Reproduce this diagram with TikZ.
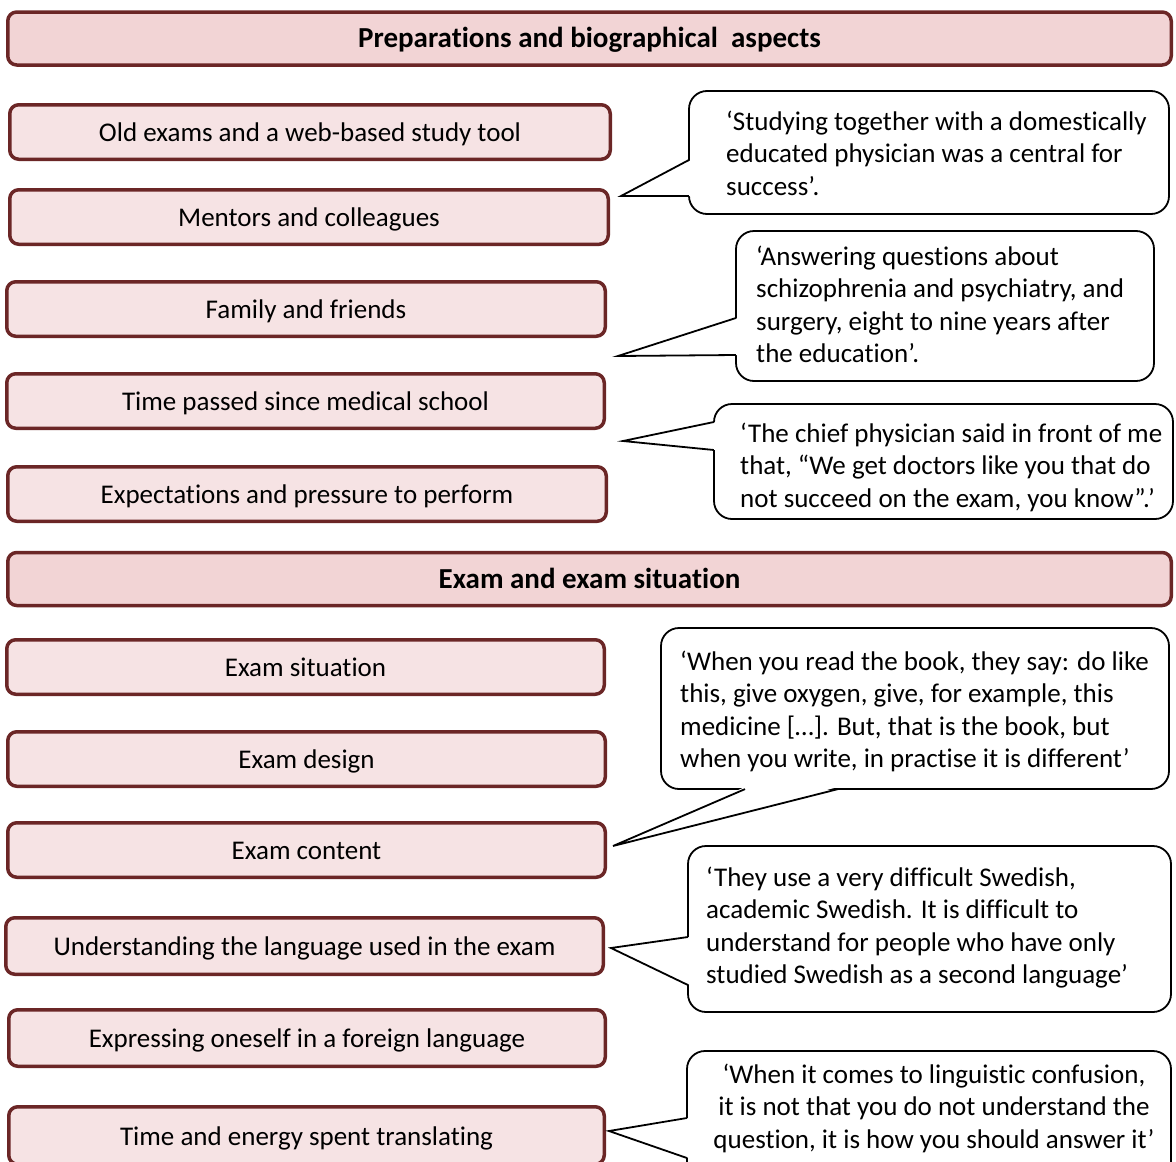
\documentclass[tikz,border=0pt]{standalone}
\usepackage{fontspec}
\setmainfont{Carlito}[Ligatures=NoCommon]
\definecolor{rim}{HTML}{6B2626}
\definecolor{headfill}{HTML}{F2D4D5}
\definecolor{itemfill}{HTML}{F6E3E4}
\tikzset{
  txt/.style={font=\fontsize{27}{32.5}\selectfont},
  catbox/.style={txt, draw=rim, line width=3.5pt, rounded corners=9pt,
    fill=itemfill, inner sep=0pt, minimum height=54.5pt,
    text height=22pt, text depth=3pt},
  headbox/.style={catbox, fill=headfill, minimum width=1163.5pt,
    minimum height=53pt, font=\fontsize{29}{34}\selectfont\bfseries,
    text height=24pt, text depth=6pt},
  bubble/.style={draw=black, line width=1.8pt, rounded corners=18pt,
    fill=white, inner sep=0pt},
  tail/.style={draw=black, line width=1.8pt},
  quote/.style={txt, align=left, inner sep=0pt, anchor=north west},
}
\begin{document}
\begin{tikzpicture}[x=1pt,y=-1pt]
\useasboundingbox (0,0) rectangle (1176,1162);
\clip (0,0) rectangle (1176,1162);

% section headers
\node[headbox] (h1) at (589.5,38.5) {Preparations and biographical~~aspects};
\node[headbox] (h2) at (589.5,579) {Exam and exam situation};

% themes of the first section
\node[catbox, minimum width=600.5pt] (b1) at (310,132) {Old exams and a web-based study tool};
\node[catbox, minimum width=598.5pt] (b2) at (309,217) {Mentors and colleagues};
\node[catbox, minimum width=598.5pt] (b3) at (306,309) {Family and friends};
\node[catbox, minimum width=597.5pt] (b4) at (305.5,401) {Time passed since medical school};
\node[catbox, minimum width=598.5pt] (b5) at (307,494) {Expectations and pressure to perform};

% themes of the second section
\node[catbox, minimum width=597.5pt] (b6) at (305.5,667) {Exam situation};
\node[catbox, minimum width=597.5pt] (b7) at (306.5,759) {Exam design};
\node[catbox, minimum width=597.5pt] (b8) at (306.5,850) {Exam content};
\node[catbox, minimum width=597.5pt, minimum height=56.5pt] (b9) at (304.5,946) {Understanding the language used in the exam};
\node[catbox, minimum width=596.5pt, minimum height=56.5pt] (b10) at (307,1038) {Expressing oneself in a foreign language};
\node[catbox, minimum width=595.5pt, minimum height=57.5pt] (b11) at (306.5,1135.5) {Time and energy spent translating};

% speech bubbles
\node[bubble, minimum width=480pt, minimum height=123pt] (q1) at (929,152.5) {};
\node[bubble, minimum width=418pt, minimum height=150pt] (q2) at (945,306) {};
\node[bubble, minimum width=459pt, minimum height=115pt] (q3) at (943.5,461.5) {};
\node[bubble, minimum width=508pt, minimum height=161pt] (q4) at (915,708.5) {};
\node[bubble, minimum width=483pt, minimum height=166pt] (q5) at (929.5,929) {};
\node[bubble, minimum width=484pt, minimum height=130pt] (q6) at (929,1116) {};

% tail tips of the bubbles
\coordinate (t1) at (621,196);
\coordinate (t2) at (618,356);
\coordinate (t3) at (623,441);
\coordinate (t4) at (613,846);
\coordinate (t5) at (611,948);
\coordinate (t6) at (609,1131);

% tails
\fill[white] (691,160) -- (t1) -- (691,196) -- cycle;
\draw[tail] (688.9,160) -- (t1) -- (688.9,196);
\fill[white] (738,318) -- (t2) -- (738,355) -- cycle;
\draw[tail] (735.9,318) -- (t2) -- (735.9,355);
\fill[white] (716,422) -- (t3) -- (716,450) -- cycle;
\draw[tail] (713.9,422) -- (t3) -- (713.9,450);
\fill[white] (745,787) -- (t4) -- (838,787) -- cycle;
\draw[tail] (745,789.1) -- (t4) -- (838,789.1);
\fill[white] (690,937) -- (t5) -- (690,985) -- cycle;
\draw[tail] (687.9,937) -- (t5) -- (687.9,985);
\fill[white] (689,1118) -- (t6) -- (689,1158) -- cycle;
\draw[tail] (686.9,1118) -- (t6) -- (686.9,1158);

% quotations
\node[quote] (x1) at (726,107.25) {\strut‘Studying together with a domestically\\educated physician was a central for\\success’.};
\node[quote] (x2) at (756,242.25) {\strut‘Answering questions about\\schizophrenia and psychiatry, and\\surgery, eight to nine years after\\the education’.};
\node[quote] (x3) at (740,419.25) {\strut‘The chief physician said in front of me\\that, “We get doctors like you that do\\not succeed on the exam, you know”.’};
\node[quote] (x4) at (680,647.25) {\strut‘When you read the book, they say: do like\\this, give oxygen, give, for example, this\\medicine […]. But, that is the book, but\\when you write, in practise it is different’};
\node[quote] (x5) at (706,863.25) {\strut‘They use a very difficult Swedish,\\academic Swedish. It is difficult to\\understand for people who have only\\studied Swedish as a second language’};
\node[quote, align=center, anchor=north] (x6) at (934,1060.25) {\strut‘When it comes to linguistic confusion,\\it is not that you do not understand the\\question, it is how you should answer it’};
\end{tikzpicture}
\end{document}
